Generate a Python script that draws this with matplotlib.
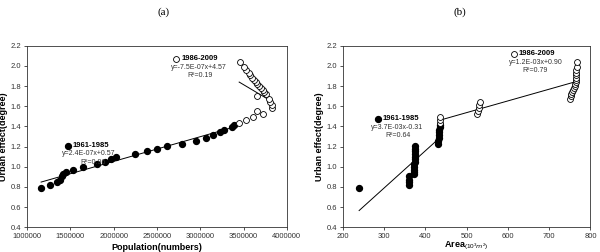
import numpy as np
import matplotlib
matplotlib.use("Agg")
import matplotlib.pyplot as plt

plt.rcParams['font.family'] = ['Liberation Sans', 'DejaVu Sans']
plt.rcParams['mathtext.fontset'] = 'custom'
plt.rcParams['mathtext.rm'] = 'Liberation Sans'
plt.rcParams['mathtext.bf'] = 'Liberation Sans:bold'

# urban effect (degree), 1961-1985 and 1986-2009
effect_early = [0.79, 0.82, 0.85, 0.87, 0.91, 0.93, 0.95, 0.97, 1.00, 1.03, 1.05, 1.08, 1.10,
                1.13, 1.16, 1.18, 1.21, 1.23, 1.26, 1.29, 1.31, 1.34, 1.36, 1.39, 1.41]
effect_late = [1.43, 1.46, 1.49, 1.52, 1.55, 1.58, 1.61, 1.64, 1.67, 1.70, 1.72, 1.74,
               1.76, 1.78, 1.80, 1.82, 1.84, 1.86, 1.88, 1.91, 1.93, 1.96, 1.99, 2.04]

# population (numbers)
pop_early = [1163000, 1265000, 1348000, 1379000, 1405000, 1420000, 1447000, 1530000, 1648000,
             1807000, 1905000, 1970000, 2023000, 2246000, 2386000, 2500000, 2621000, 2790000,
             2947000, 3064000, 3144000, 3227000, 3280000, 3371000, 3386000]
pop_late = [3450000, 3530000, 3610000, 3720000, 3660000, 3830000, 3830000, 3810000, 3800000,
            3660000, 3760000, 3740000, 3720000, 3700000, 3680000, 3660000, 3640000, 3620000,
            3600000, 3580000, 3560000, 3530000, 3500000, 3455000]

# built-up area (10^3 m^2)
area_early = [240, 360, 360, 361, 361, 373, 373, 374, 374, 374, 375, 375, 375, 375, 376, 376,
              376, 432, 432, 433, 433, 434, 434, 435, 435]
area_late = [436, 436, 437, 526, 528, 530, 531, 532, 750, 752, 754, 756, 758, 760, 762, 763,
             764, 765, 765, 766, 766, 766, 767, 767]

fig = plt.figure(figsize=(6, 2.52), dpi=100)
ax1 = fig.add_axes([0.045, 0.098, 0.433, 0.7206])
ax2 = fig.add_axes([0.571, 0.098, 0.413, 0.7206])

msize = 18


def trend(ax, x, y):
    x = np.asarray(x, dtype=float)
    k, b = np.polyfit(x, y, 1)
    xs = np.array([x.min(), x.max()])
    ax.plot(xs, k * xs + b, color='black', lw=0.7, zorder=2)


for ax, xe, xl in [(ax1, pop_early, pop_late), (ax2, area_early, area_late)]:
    ax.scatter(xe, effect_early, s=msize, c='black', zorder=3)
    ax.scatter(xl, effect_late, s=msize, facecolors='white', edgecolors='black',
               linewidths=0.6, zorder=3)
    trend(ax, xe, effect_early)
    trend(ax, xl, effect_late)
    ax.set_ylim(0.4, 2.2)
    ax.set_yticks(np.arange(0.4, 2.21, 0.2))
    ax.yaxis.set_major_formatter(plt.FormatStrFormatter('%.1f'))
    ax.tick_params(labelsize=5.5, length=2.5, width=0.6, pad=1.5, colors='#333333')
    ax.tick_params(top=False, right=False)
    for sp in ax.spines.values():
        sp.set_linewidth(0.6)
        sp.set_color('#333333')
    ax.set_ylabel('Urban effect(degree)', fontsize=6.5, fontweight='bold', labelpad=2)

ax1.set_xlim(1000000, 4000000)
ax1.set_xticks(np.arange(1000000, 4000001, 500000))
ax1.xaxis.set_major_formatter(plt.FormatStrFormatter('%d'))
ax1.set_xlabel('Population(numbers)', fontsize=6.5, fontweight='bold', labelpad=2)

ax2.set_xlim(200, 800)
ax2.set_xticks(np.arange(200, 801, 100))
ax2.set_xlabel(r'$\mathbf{Area}$$_{(10^3m^2)}$', fontsize=6.5, labelpad=0)

ann = dict(fontsize=5, color='#333333', ha='center', va='center')
hdr = dict(fontsize=5.5, fontweight='bold', ha='left', va='center')

# panel (a) labels
ax1.scatter([1470000], [1.21], s=msize, c='black')
ax1.text(1530000, 1.21, '1961-1985', **hdr)
ax1.text(1710000, 1.127, 'y=2.4E-07x+0.57', **ann)
ax1.text(1760000, 1.044, 'R²=0.96', **ann)
ax1.scatter([2720000], [2.07], s=msize, facecolors='white', edgecolors='black', linewidths=0.6)
ax1.text(2790000, 2.07, '1986-2009', **hdr)
ax1.text(2990000, 1.98, 'y=-7.5E-07x+4.57', **ann)
ax1.text(3000000, 1.90, 'R²=0.19', **ann)

# panel (b) labels
ax2.scatter([285], [1.477], s=msize, c='black')
ax2.text(297, 1.477, '1961-1985', **hdr)
ax2.text(331, 1.388, 'y=3.7E-03x-0.31', **ann)
ax2.text(335, 1.311, 'R²=0.64', **ann)
ax2.scatter([615], [2.12], s=msize, facecolors='white', edgecolors='black', linewidths=0.6)
ax2.text(627, 2.12, '1986-2009', **hdr)
ax2.text(667, 2.034, 'y=1.2E-03x+0.90', **ann)
ax2.text(667, 1.958, 'R²=0.79', **ann)

fig.text(0.272, 0.95, '(a)', fontsize=8, family='Liberation Serif', ha='center', va='center')
fig.text(0.767, 0.95, '(b)', fontsize=8, family='Liberation Serif', ha='center', va='center')

fig.savefig('out.png', dpi=100)
